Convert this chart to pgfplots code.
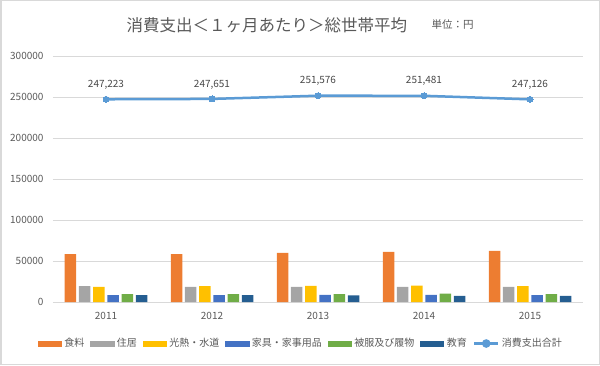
\documentclass[border=0pt]{standalone}
\usepackage{pgfplots}
\pgfplotsset{compat=1.18}
\usepackage{fontspec}
\setmainfont{Noto Sans CJK JP}
\definecolor{cFood}{HTML}{ED7D31}
\definecolor{cHouse}{HTML}{A5A5A5}
\definecolor{cUtil}{HTML}{FFC000}
\definecolor{cFurn}{HTML}{4472C4}
\definecolor{cCloth}{HTML}{70AD47}
\definecolor{cEdu}{HTML}{255E91}
\definecolor{cTotal}{HTML}{5B9BD5}
\definecolor{cText}{HTML}{595959}
\definecolor{cGrid}{HTML}{D9D9D9}
\pgfplotsset{
  barleg/.style={legend image code/.code={\fill[##1] (0pt,-3pt) rectangle (24pt,3pt);}},
  lineleg/.style={legend image code/.code={\draw[##1] (0pt,0pt) -- (24pt,0pt); \fill[cTotal] (12pt,0pt) circle (3pt);}}
}
\begin{document}
\begin{tikzpicture}[x=1pt,y=1pt]
\draw[cGrid,line width=1.5pt] (0.75,0.75) rectangle (599.25,364.25);
\node[text=cText,font=\fontsize{16.5}{18}\selectfont,anchor=west] at (123,340) {消費支出＜１ヶ月あたり＞総世帯平均};
\node[text=cText,font=\fontsize{10.5}{12}\selectfont,anchor=west] at (428,340) {単位：円};
\begin{axis}[
  at={(53pt,63pt)}, anchor=south west,
  width=530pt, height=246pt, scale only axis,
  xmin=-0.5, xmax=4.5, ymin=0, ymax=300000,
  xtick={0,1,2,3,4}, xticklabels={2011,2012,2013,2014,2015},
  ytick={0,50000,...,300000},
  scaled y ticks=false,
  /pgf/number format/.cd, fixed, set thousands separator={}, assume math mode=true, /pgfplots/.cd,
  axis line style={draw=none},
  major tick length=0pt,
  ymajorgrids, grid style={cGrid, line width=0.8pt},
  tick label style={text=cText, font=\fontsize{10}{12}\selectfont},
  yticklabel style={xshift=-6pt},
  xticklabel style={yshift=-7pt},
  clip=false,
  legend style={at={(247pt,-41.5pt)}, anchor=center, draw=none, fill=none,
    font=\fontsize{10}{12}\selectfont, text=cText,
    nodes={inner sep=0pt},
    /tikz/every odd column/.append style={column sep=2.5pt},
    /tikz/every even column/.append style={column sep=6pt}},
  legend columns=7,
  legend cell align=left,
]
\addplot[ybar, bar width=11.5pt, bar shift=-35.5pt, fill=cFood, draw=none, barleg] coordinates {(0,58500) (1,58500) (2,59800) (3,61000) (4,62200)};
\addlegendentry{食料}
\addplot[ybar, bar width=11.5pt, bar shift=-21.3pt, fill=cHouse, draw=none, barleg] coordinates {(0,19500) (1,18300) (2,18300) (3,18300) (4,18300)};
\addlegendentry{住居}
\addplot[ybar, bar width=11.5pt, bar shift=-7.1pt, fill=cUtil, draw=none, barleg] coordinates {(0,18300) (1,19500) (2,19700) (3,20000) (4,19500)};
\addlegendentry{光熱・水道}
\addplot[ybar, bar width=11.5pt, bar shift=7.1pt, fill=cFurn, draw=none, barleg] coordinates {(0,8500) (1,8500) (2,8700) (3,8700) (4,8300)};
\addlegendentry{家具・家事用品}
\addplot[ybar, bar width=11.5pt, bar shift=21.3pt, fill=cCloth, draw=none, barleg] coordinates {(0,9700) (1,9700) (2,9700) (3,10300) (4,9700)};
\addlegendentry{被服及び履物}
\addplot[ybar, bar width=11.5pt, bar shift=35.5pt, fill=cEdu, draw=none, barleg] coordinates {(0,8500) (1,8500) (2,8000) (3,7500) (4,7400)};
\addlegendentry{教育}
\addplot[cTotal, line width=2.5pt, mark=*, mark size=3pt, mark options={fill=cTotal, draw=cTotal, line width=0pt},
  nodes near coords, point meta=explicit symbolic,
  nodes near coords style={anchor=south, inner sep=0pt, yshift=10pt, text=cText!80!black, font=\fontsize{10}{12}\selectfont},
  lineleg]
  coordinates {(0,247223)[247,223] (1,247651)[247,651] (2,251576)[251,576] (3,251481)[251,481] (4,247126)[247,126]};
\addlegendentry{消費支出合計}
\end{axis}
\end{tikzpicture}
\end{document}
